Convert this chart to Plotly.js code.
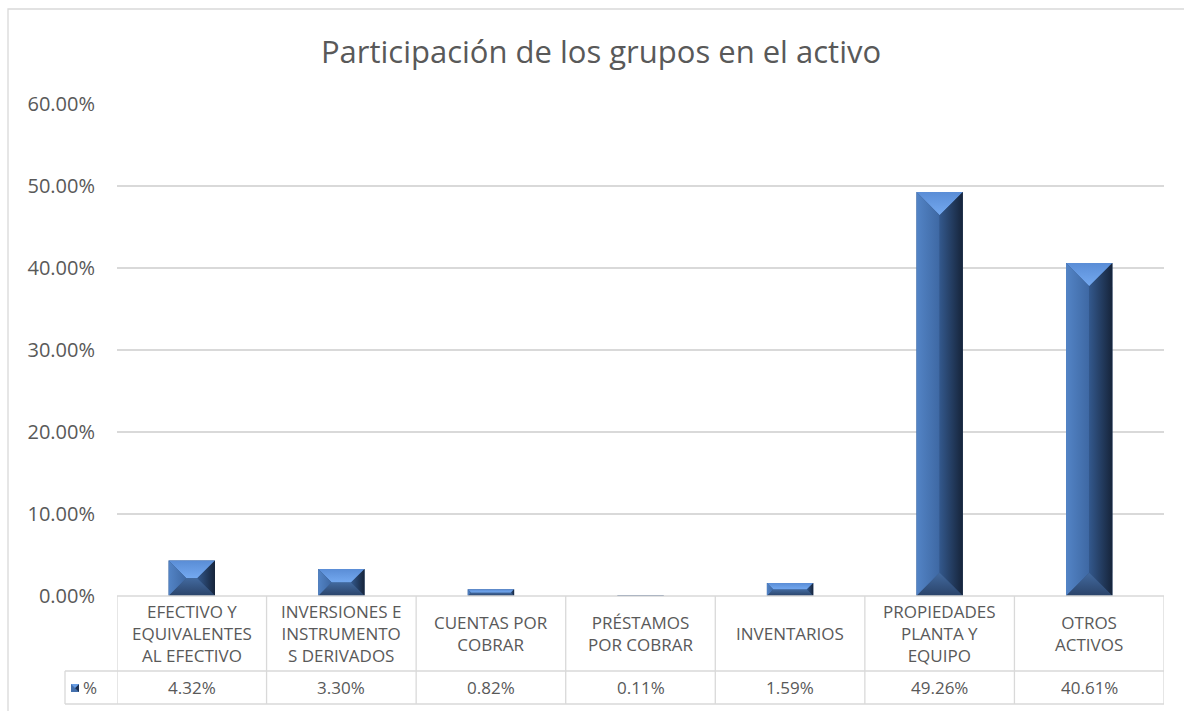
<!DOCTYPE html>
<html>
<head>
<meta charset="utf-8">
<script src="https://cdn.plot.ly/plotly-3.0.1.min.js"></script>
<style>html,body{margin:0;padding:0;background:#fff;}#chart{width:1184px;height:711px;}</style>
</head>
<body>
<div id="chart"></div>
<script>
// ---- data ----
const categories = ["EFECTIVO Y EQUIVALENTES AL EFECTIVO", "INVERSIONES E INSTRUMENTOS DERIVADOS", "CUENTAS POR COBRAR", "PRÉSTAMOS POR COBRAR", "INVENTARIOS", "PROPIEDADES PLANTA Y EQUIPO", "OTROS ACTIVOS"];
const headerLabels = ["EFECTIVO Y<br>EQUIVALENTES<br>AL EFECTIVO", "INVERSIONES E<br>INSTRUMENTO<br>S DERIVADOS", "CUENTAS POR<br>COBRAR", "PRÉSTAMOS<br>POR COBRAR", "INVENTARIOS", "PROPIEDADES<br>PLANTA Y<br>EQUIPO", "OTROS<br>ACTIVOS"];
const values = [4.32, 3.30, 0.82, 0.11, 1.59, 49.26, 40.61];
const seriesName = "%";
const yTickVals = [0, 10, 20, 30, 40, 50, 60];
const yTickText = ["0.00%", "10.00%", "20.00%", "30.00%", "40.00%", "50.00%", "60.00%"];

// ---- layout constants ----
const W = 1184, H = 711;
const M = {l: 117, r: 20, t: 104, b: 115};
const plotW = W - M.l - M.r, plotH = H - M.t - M.b;
const yMax = 60;
const pxPerCat = plotW / categories.length;
const pxPerPct = plotH / yMax;
const barW = 0.31;
const font = "Open Sans, Noto Sans, sans-serif";
const textColor = "#595959";
const lineColor = "#d9d9d9";

const xs = categories.map((c, i) => i);

const traces = [];
// base bar trace
traces.push({
  type: "bar", x: xs, y: values, width: barW, name: seriesName,
  marker: {color: "#2f5283", line: {width: 0}},
  customdata: categories,
  hovertemplate: "%{customdata}: %{y:.2f}%<extra></extra>"
});

// bevel facets drawn from the values
values.forEach((v, i) => {
  const hw = barW / 2;
  const hPx = v * pxPerPct;
  const bPx = Math.min(hw * pxPerCat, hPx / 2);
  const bx = bPx / pxPerCat, by = bPx / pxPerPct;
  const L = i - hw, R = i + hw;
  const facets = [
    {x: [L, R, R - bx, L + bx, L], y: [v, v, v - by, v - by, v], g: {type: "vertical", colorscale: [[0, "#74a9f0"], [1, "#5a8dd6"]]}},
    {x: [L, L, L + bx, L + bx, L], y: [0, v, v - by, by, 0], g: {type: "horizontal", colorscale: [[0, "#5384c6"], [1, "#3e68a3"]]}},
    {x: [R - bx, R - bx, R, R, R - bx], y: [by, v - by, v, 0, by], g: {type: "horizontal", colorscale: [[0, "#33588c"], [1, "#16243a"]]}},
    {x: [L, R, R - bx, L + bx, L], y: [0, 0, by, by, 0], g: {type: "vertical", colorscale: [[0, "#2a4369"], [1, "#42699e"]]}}
  ];
  facets.forEach(f => traces.push({
    type: "scatter", mode: "lines", x: f.x, y: f.y, fill: "toself",
    fillgradient: f.g, line: {width: 0, color: "rgba(0,0,0,0)"},
    hoverinfo: "skip", showlegend: false
  }));
});

// table geometry (pixels -> paper)
const py = Y => (H - M.b - Y) / plotH;
const pxX = X => (X - M.l) / plotW;
const rowTop = H - M.b, rowMid = 671, rowBot = 704, keyLeft = 65;

const shapes = [];
// chart border
shapes.push({type: "rect", xref: "paper", yref: "paper", x0: pxX(8), x1: pxX(1200), y0: py(9), y1: py(730), line: {color: lineColor, width: 1.3}, fillcolor: "rgba(0,0,0,0)", layer: "below"});
// table horizontal lines
shapes.push({type: "line", xref: "paper", yref: "paper", x0: 0, x1: 1, y0: py(rowTop), y1: py(rowTop), line: {color: lineColor, width: 1.3}});
[rowMid, rowBot].forEach(Y => shapes.push({type: "line", xref: "paper", yref: "paper", x0: pxX(keyLeft), x1: 1, y0: py(Y), y1: py(Y), line: {color: lineColor, width: 1.3}}));
// table vertical lines at category boundaries
for (let k = 0; k <= categories.length; k++) {
  shapes.push({type: "line", xref: "x", yref: "paper", x0: k - 0.5, x1: k - 0.5, y0: py(rowTop), y1: py(rowBot), line: {color: lineColor, width: 1.3}});
}
shapes.push({type: "line", xref: "paper", yref: "paper", x0: pxX(keyLeft), x1: pxX(keyLeft), y0: py(rowMid), y1: py(rowBot), line: {color: lineColor, width: 1.3}});
// legend key icon
const kx0 = pxX(71), kx1 = pxX(79), ky0 = py(692), ky1 = py(684), kxm = (kx0 + kx1) / 2, kym = (ky0 + ky1) / 2;
shapes.push({type: "rect", xref: "paper", yref: "paper", x0: kx0, x1: kx1, y0: ky0, y1: ky1, fillcolor: "#4470ad", line: {width: 0}});
shapes.push({type: "path", xref: "paper", yref: "paper", path: `M ${kxm} ${kym} L ${kx1} ${ky1} L ${kx1} ${ky0} Z`, fillcolor: "#1d3050", line: {width: 0}});
shapes.push({type: "path", xref: "paper", yref: "paper", path: `M ${kxm} ${kym} L ${kx0} ${ky1} L ${kx1} ${ky1} Z`, fillcolor: "#6a9ee4", line: {width: 0}});

const annotations = [];
headerLabels.forEach((t, i) => annotations.push({
  xref: "x", yref: "paper", x: i, y: py((rowTop + rowMid) / 2), text: t, showarrow: false,
  xanchor: "center", yanchor: "middle", align: "center", font: {family: font, size: 17, color: textColor}
}));
values.forEach((v, i) => annotations.push({
  xref: "x", yref: "paper", x: i, y: py((rowMid + rowBot) / 2), text: v.toFixed(2) + "%", showarrow: false,
  xanchor: "center", yanchor: "middle", font: {family: font, size: 17, color: textColor}
}));
annotations.push({xref: "paper", yref: "paper", x: pxX(81), y: py((rowMid + rowBot) / 2), text: seriesName, showarrow: false, xanchor: "left", yanchor: "middle", font: {family: font, size: 17, color: textColor}});

const layout = {
  width: W, height: H,
  margin: M,
  paper_bgcolor: "#ffffff", plot_bgcolor: "#ffffff",
  showlegend: false,
  barmode: "overlay",
  title: {text: "Participación de los grupos en el activo", xref: "paper", x: (601 - M.l) / plotW, xanchor: "center", yref: "container", y: 1 - 52 / H, yanchor: "middle", font: {family: font, size: 31, color: textColor}},
  xaxis: {range: [-0.5, categories.length - 0.5], showticklabels: false, showgrid: false, zeroline: false, showline: false, ticks: "", fixedrange: true},
  yaxis: {range: [0, yMax], tickmode: "array", tickvals: yTickVals, ticktext: yTickText, showgrid: true, gridcolor: lineColor, gridwidth: 1.3, zeroline: false, showline: false, ticks: "outside", ticklen: 17, tickcolor: "rgba(0,0,0,0)", tickfont: {family: font, size: 20, color: textColor}, fixedrange: true},
  shapes: shapes,
  annotations: annotations
};

Plotly.newPlot("chart", traces, layout, {displayModeBar: false, staticPlot: true});
</script>
</body>
</html>
